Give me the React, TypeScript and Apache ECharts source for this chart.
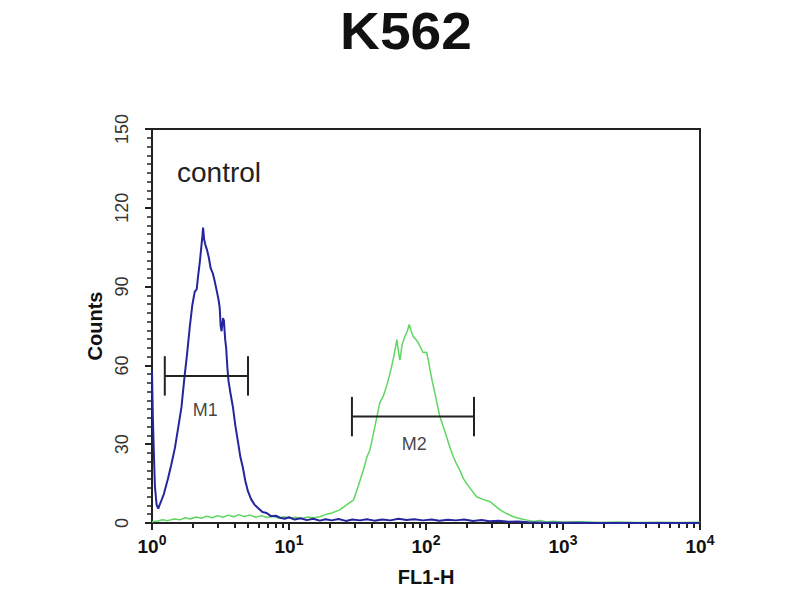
import * as echarts from "echarts";
import { useEffect, useRef } from "react";

// fluorescence channel (FL1-H) and counts
const BLUE_FL = [
  1.0, 1.015, 1.03, 1.05, 1.08, 1.11, 1.16, 1.22, 1.31, 1.38, 1.47, 1.55, 1.64,
  1.73, 1.8, 1.89, 1.97, 2.05, 2.12, 2.17, 2.23, 2.29, 2.33, 2.36, 2.4, 2.45,
  2.52, 2.6, 2.68, 2.78, 2.87, 2.98, 3.06, 3.12, 3.17, 3.22, 3.3, 3.35, 3.42,
  3.48, 3.55, 3.62, 3.75, 3.9, 4.06, 4.24, 4.42, 4.61, 4.8, 5.02, 5.3, 5.6,
  5.94, 6.4, 6.87, 7.38, 8.0, 8.6, 9.3, 10, 11, 12.2, 13.5, 15, 16.8, 18.5,
  20.5, 23, 26, 29, 33, 37, 42, 48, 55, 63, 72, 82, 95, 110, 125, 145, 165, 190,
  220, 255, 290, 340, 400, 470, 560, 700, 900, 1200, 2000, 4000, 10000,
];
const BLUE_COUNTS = [
  58, 40, 28, 14, 7, 5.5, 8, 11, 17, 22, 28.6, 36, 44, 56, 64, 75, 83, 88, 89,
  94, 99, 105, 109, 112.5, 108, 106, 104, 101, 97, 95, 92, 88, 85, 82, 75, 73,
  78, 77, 70, 66.5, 59, 54, 49, 44, 37, 31, 25, 21, 16, 12, 9, 7, 5.7, 4.2, 3.8,
  2.6, 2.8, 2.0, 1.6, 2.2, 1.3, 1.8, 1.1, 1.6, 0.9, 1.4, 1.0, 1.5, 0.8, 1.3,
  1.0, 1.4, 0.9, 1.3, 1.0, 1.6, 1.1, 1.4, 1.0, 1.3, 0.9, 1.2, 1.0, 1.3, 0.8,
  1.1, 0.7, 0.9, 0.5, 0.6, 0.3, 0.2, 0.1, 0.1, 0, 0, 0,
];

const GREEN_FL = [
  1.0, 1.1, 1.2, 1.3, 1.45, 1.6, 1.75, 1.9, 2.1, 2.3, 2.5, 2.75, 3.0, 3.3, 3.6,
  3.95, 4.3, 4.7, 5.2, 5.7, 6.3, 6.9, 7.6, 8.4, 9.2, 10.1, 11.2, 12.4, 13.7,
  15.2, 16.8, 18.5, 20.5, 23.5, 26.5, 29.6, 32, 34.8, 37, 39, 42.4, 46, 48.5,
  51.5, 54, 56.2, 58.5, 61.3, 63, 64.5, 67, 70.1, 73, 75.4, 78, 80.6, 84, 87.6,
  91, 95.3, 101, 104, 106.9, 111, 116, 121, 126, 133, 141, 149, 158, 167, 177,
  187, 198, 215, 234, 260, 294, 320, 347, 390, 434, 500, 560, 606, 680, 760,
  850, 1000, 1300, 1800, 2500, 3500, 5000, 7000, 10000,
];
const GREEN_COUNTS = [
  0.5, 0.8, 1.2, 0.9, 1.5, 1.2, 2.0, 1.5, 2.3, 1.8, 2.6, 2.0, 2.8, 2.2, 3.0,
  2.4, 3.2, 2.5, 3.0, 2.2, 2.8, 2.1, 2.6, 1.9, 2.4, 1.8, 2.2, 1.6, 2.3, 2.0,
  2.4, 3.2, 3.8, 5, 7, 8.8, 14, 20, 25, 27.9, 36.8, 45.8, 48, 52, 56, 59.7, 64,
  69.8, 65, 62, 68, 71, 73, 75.6, 73, 71, 70, 68.7, 67, 64.9, 65, 62, 58.4, 54,
  49.6, 45, 40.6, 37, 33, 29, 25.3, 22.5, 20, 17, 15, 12.5, 10, 9, 8.1, 6.5, 5,
  3.5, 2.4, 1.5, 1.0, 0.6, 1.0, 0.4, 0.7, 0.3, 0.5, 0.2, 0.4, 0.2, 0.3, 0.2,
  0.3,
];

// gates M1 / M2
const GATE_NAMES = ["M1", "M2"];
const GATE_LOW = [1.24, 28.8];
const GATE_HIGH = [5.02, 224];
const GATE_LEVEL = [56, 40.5];
const GATE_LABEL_X = [2.45, 82];
const GATE_LABEL_Y = [43, 30];
const GATE_CAP = 7.5;

const Y_MAX = 150;
const Y_INTERVAL = 30;
const X_DECADES = [1, 10, 100, 1000, 10000];
const X_MINOR = [2, 3, 4, 5, 6, 7, 8, 9];

const FONT = "'Liberation Sans', Arial, Helvetica, sans-serif";
const AXIS_COLOR = "#222";

function zip(xs: number[], ys: number[]) {
  return xs.map((x, i) => [x, ys[i]]);
}

function gateSeries(i: number) {
  const lo = GATE_LOW[i];
  const hi = GATE_HIGH[i];
  const lv = GATE_LEVEL[i];
  const segs = [
    [[lo, lv], [hi, lv]],
    [[lo, lv - GATE_CAP], [lo, lv + GATE_CAP]],
    [[hi, lv - GATE_CAP], [hi, lv + GATE_CAP]],
  ];
  return segs.map((data) => ({
    type: "line" as const,
    data,
    showSymbol: false,
    silent: true,
    z: 5,
    lineStyle: { color: "#222", width: 2 },
  }));
}

export default function App() {
  const ref = useRef<HTMLDivElement>(null);

  useEffect(() => {
    if (!ref.current) return;
    const chart = echarts.init(ref.current, undefined, { renderer: "svg" });

    // minor tick positions in decade space (hidden helper axis 0..4)
    const minorTicks: number[] = [];
    X_DECADES.slice(0, -1).forEach((d) =>
      X_MINOR.forEach((m) => minorTicks.push(Math.log10(d * m))),
    );

    const option: echarts.EChartsOption = {
      animation: false,
      backgroundColor: "#fff",
      grid: {
        left: 152,
        right: 100,
        top: 129,
        bottom: 77,
        show: true,
        borderColor: AXIS_COLOR,
        borderWidth: 2,
        outerBoundsMode: "none",
      } as any,
      graphic: [
        {
          type: "text",
          x: 406,
          y: 5,
          scaleX: 1.06,
          style: {
            text: "K562",
            fontSize: 52,
            fontWeight: "bold",
            fontFamily: FONT,
            fill: "#111",
            align: "center",
            verticalAlign: "top",
          },
        },
        {
          type: "text",
          x: 177,
          y: 172,
          style: {
            text: "control",
            fontSize: 28,
            fontFamily: FONT,
            fill: "#222",
            align: "left",
            verticalAlign: "middle",
          },
        },
      ],
      xAxis: [
        {
          type: "log",
          logBase: 10,
          min: 1,
          max: 10000,
          name: "FL1-H",
          nameLocation: "middle",
          nameGap: 44,
          nameTextStyle: {
            fontSize: 20,
            fontWeight: "bold",
            fontFamily: FONT,
            color: "#111",
          },
          axisLine: { lineStyle: { color: AXIS_COLOR, width: 2 } },
          axisTick: { length: 7, lineStyle: { color: AXIS_COLOR, width: 2 } },
          splitLine: { show: false },
          axisLabel: {
            margin: 10,
            formatter: (v: number) =>
              `{b|10}{s|${Math.round(Math.log10(v))}}`,
            rich: {
              b: {
                fontSize: 19,
                fontWeight: "bold",
                fontFamily: FONT,
                color: "#111",
              },
              s: {
                fontSize: 14,
                fontWeight: "bold",
                fontFamily: FONT,
                color: "#111",
                padding: [0, 0, 12, 0],
              },
            },
          },
        },
        {
          type: "value",
          min: 0,
          max: 4,
          position: "bottom",
          axisLine: { show: true, lineStyle: { color: "rgba(0,0,0,0)" } },
          axisLabel: { show: false },
          splitLine: { show: false },
          axisTick: {
            show: true,
            customValues: minorTicks,
            length: 5,
            lineStyle: { color: AXIS_COLOR, width: 2 },
          },
        } as any,
      ],
      yAxis: {
        type: "value",
        min: 0,
        max: Y_MAX,
        interval: Y_INTERVAL,
        name: "Counts",
        nameLocation: "middle",
        nameGap: 40,
        nameTextStyle: {
          fontSize: 20,
          fontWeight: "bold",
          fontFamily: FONT,
          color: "#111",
        },
        axisLine: { show: true, lineStyle: { color: AXIS_COLOR, width: 2 } },
        axisTick: {
          show: true,
          length: 7,
          lineStyle: { color: AXIS_COLOR, width: 2 },
        },
        minorTick: {
          show: true,
          splitNumber: 9,
          length: 5,
          lineStyle: { color: AXIS_COLOR, width: 1.5 },
        },
        splitLine: { show: false },
        axisLabel: {
          rotate: 90,
          margin: 21,
          fontSize: 18,
          fontFamily: FONT,
          color: "#333",
        },
      },
      series: [
        {
          type: "line",
          data: zip(GREEN_FL, GREEN_COUNTS),
          showSymbol: false,
          lineStyle: { color: "#5fd65f", width: 1.5 },
          z: 2,
        },
        {
          type: "line",
          data: zip(BLUE_FL, BLUE_COUNTS),
          showSymbol: false,
          lineStyle: { color: "#25259d", width: 2 },
          z: 3,
        },
        ...gateSeries(0),
        ...gateSeries(1),
        {
          type: "scatter",
          data: GATE_NAMES.map((n, i) => ({
            value: [GATE_LABEL_X[i], GATE_LABEL_Y[i]],
            name: n,
          })),
          symbolSize: 0,
          silent: true,
          z: 6,
          label: {
            show: true,
            position: "inside",
            formatter: (p: any) => p.name,
            fontSize: 18,
            fontFamily: FONT,
            color: "#111",
          },
        },
      ],
    };

    chart.setOption(option);
    return () => chart.dispose();
  }, []);

  return (
    <div
      ref={ref}
      style={{ position: "fixed", left: 0, top: 0, width: 800, height: 600 }}
    />
  );
}
